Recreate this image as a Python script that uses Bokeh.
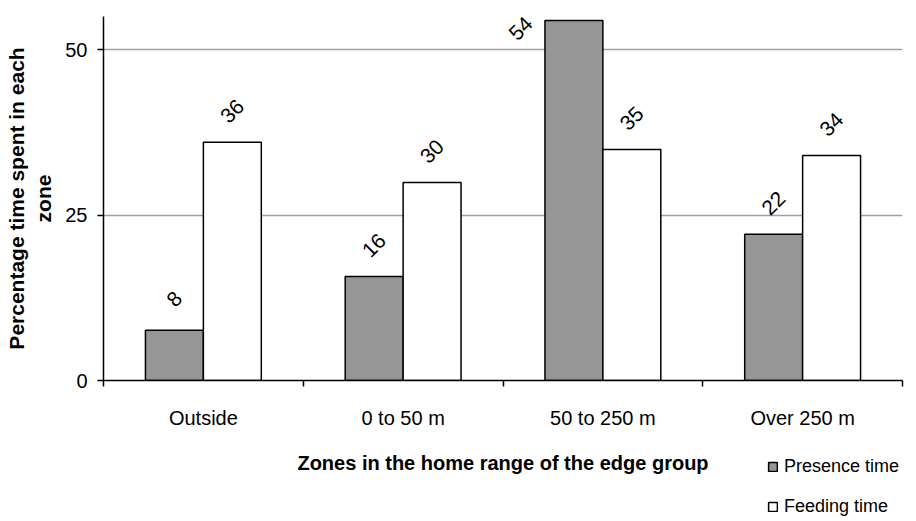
import numpy as np
from bokeh.plotting import figure
from bokeh.layouts import column
from bokeh.core.properties import value
from bokeh.models import (ColumnDataSource, Range1d, FixedTicker, LabelSet, Label,
                          Legend, LegendItem)
from bokeh.embed import file_html
from bokeh.resources import INLINE

# ---------------- data ----------------
categories = ["Outside", "0 to 50 m", "50 to 250 m", "Over 250 m"]
presence_time = [7.6, 15.7, 54.4, 22.1]
feeding_time = [36.0, 29.9, 34.9, 34.0]
y_ticks = [0, 25, 50]
series_names = ["Presence time", "Feeding time"]
x_title = "Zones in the home range of the edge group"
y_title = "Percentage time spent in each\nzone"

# ---------------- style ----------------
FONT = "Liberation Sans"
W = 916
MAIN_H = 440
BOTTOM_H = 521 - MAIN_H
BORDER_L, BORDER_R = 103, 14
YMAX = 55
FRAME_H = MAIN_H - 16 - 60
PPU = FRAME_H / YMAX
BAR_W = 0.29
LABEL_UP = 31
GREY = "#969696"

p = figure(width=W, height=MAIN_H,
           x_range=Range1d(0, len(categories)),
           y_range=Range1d(0, YMAX),
           output_backend="svg", toolbar_location=None,
           min_border_left=BORDER_L, min_border_right=BORDER_R,
           min_border_top=16, min_border_bottom=60)
p.outline_line_color = None
p.background_fill_color = "white"
p.border_fill_color = "white"

idx = np.arange(len(categories))


def label_offsets(vals):
    xo, yo = [], []
    for v in vals:
        if v * PPU + LABEL_UP + 12 > FRAME_H:
            xo.append(-53)
            yo.append(-8)
        else:
            xo.append(0)
            yo.append(LABEL_UP)
    return xo, yo


xo_p, yo_p = label_offsets(presence_time)
xo_f, yo_f = label_offsets(feeding_time)

src_p = ColumnDataSource(dict(x=idx + 0.5 - BAR_W / 2, top=presence_time,
                              label=[f"{v:.0f}" for v in presence_time],
                              xo=xo_p, yo=yo_p))
src_f = ColumnDataSource(dict(x=idx + 0.5 + BAR_W / 2, top=feeding_time,
                              label=[f"{v:.0f}" for v in feeding_time],
                              xo=xo_f, yo=yo_f))

bar_styles = [dict(fill_color=GREY, line_color="black", line_width=1.5),
              dict(fill_color="white", line_color="black", line_width=1.5)]

for src, st in zip((src_p, src_f), bar_styles):
    p.vbar(x="x", top="top", width=BAR_W, bottom=0, source=src, **st)
    p.add_layout(LabelSet(x="x", y="top", text="label", source=src,
                          x_offset="xo", y_offset="yo",
                          angle=45, angle_units="deg",
                          text_align="center", text_baseline="middle",
                          text_font=value(FONT), text_font_size="21px",
                          text_color="black"))

# ---------------- axes ----------------
xa = p.xaxis[0]
xa.ticker = FixedTicker(ticks=[float(i + 0.5) for i in idx],
                        minor_ticks=[float(i) for i in range(len(categories) + 1)])
xa.major_label_overrides = {float(i + 0.5): c for i, c in zip(idx, categories)}
xa.major_tick_out = 0
xa.major_tick_in = 0
xa.minor_tick_out = 6
xa.minor_tick_in = 0
xa.minor_tick_line_color = "black"
xa.minor_tick_line_width = 1.5
xa.axis_line_color = "black"
xa.axis_line_width = 1.5
xa.major_label_standoff = 20
xa.major_label_text_font = FONT
xa.major_label_text_font_size = "20px"
xa.major_label_text_color = "black"

ya = p.yaxis[0]
ya.ticker = FixedTicker(ticks=y_ticks, minor_ticks=[])
ya.major_tick_out = 6
ya.major_tick_in = 0
ya.major_tick_line_color = "black"
ya.major_tick_line_width = 1.5
ya.minor_tick_out = 0
ya.minor_tick_in = 0
ya.axis_line_color = "black"
ya.axis_line_width = 1.5
ya.major_label_standoff = 10
ya.major_label_text_font = FONT
ya.major_label_text_font_size = "20px"
ya.major_label_text_color = "black"
ya.axis_label = y_title
ya.axis_label_standoff = 7
ya.axis_label_text_font = FONT
ya.axis_label_text_font_size = "21px"
ya.axis_label_text_font_style = "bold"
ya.axis_label_text_color = "black"

p.xgrid.visible = False
p.ygrid.ticker = FixedTicker(ticks=[t for t in y_ticks if t > 0])
p.ygrid.grid_line_color = "#a0a0a0"
p.ygrid.grid_line_width = 1.5

# ---------------- bottom strip: x title and legend ----------------
STRIP_TOP = -200
p2 = figure(width=W, height=BOTTOM_H,
            x_range=Range1d(0, len(categories)),
            y_range=Range1d(STRIP_TOP - BOTTOM_H, STRIP_TOP),
            x_axis_type=None, y_axis_type=None,
            output_backend="svg", toolbar_location=None,
            min_border_left=BORDER_L, min_border_right=BORDER_R,
            min_border_top=0, min_border_bottom=0)
p2.outline_line_color = None
p2.background_fill_color = "white"
p2.border_fill_color = "white"
p2.grid.visible = False

p2.add_layout(Label(x=len(categories) / 2, y=STRIP_TOP - 22, text=x_title,
                    text_font=FONT, text_font_size="20px",
                    text_font_style="bold", text_align="center",
                    text_baseline="middle", text_color="black"))

# legend renderers: same bar data and style, hidden; only the swatches show
legend_renderers = []
for src, st in zip((src_p, src_f), bar_styles):
    r = p2.vbar(x="x", top="top", width=BAR_W, bottom=0, source=src, **st)
    r.visible = False
    legend_renderers.append(r)

legend = Legend(items=[LegendItem(label=n, renderers=[r])
                       for n, r in zip(series_names, legend_renderers)],
                location=(767 - BORDER_L, BOTTOM_H - 15 - 62), orientation="vertical",
                glyph_width=11, glyph_height=11, label_standoff=6,
                label_height=22, spacing=18, padding=0, margin=0,
                label_text_font=FONT, label_text_font_size="18px",
                label_text_color="black", click_policy="none",
                inactive_fill_alpha=0,
                border_line_color=None, background_fill_alpha=0)
p2.add_layout(legend, "center")

layout = column(p, p2, spacing=0)
open("out.html", "w").write(file_html(layout, INLINE))
